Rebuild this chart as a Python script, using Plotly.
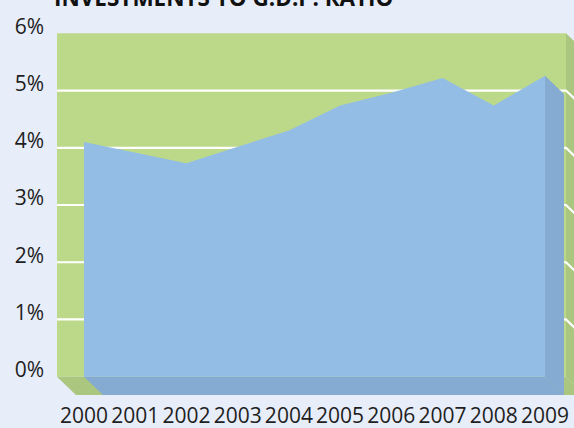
import plotly.graph_objects as go

# Investments to GDP ratio, percent
years = [2000, 2001, 2002, 2003, 2004, 2005, 2006, 2007, 2008, 2009]
ratio = [4.10, 3.91, 3.73, 4.02, 4.30, 4.74, 4.96, 5.22, 4.74, 5.26]
y_ticks = [0, 1, 2, 3, 4, 5, 6]
y_tick_labels = ["0%", "1%", "2%", "3%", "4%", "5%", "6%"]
title_text = "INVESTMENTS TO G.D.P. RATIO"

# colours
BG = "#e7edf9"
WALL = "#bcd98a"
WALL_DARK = "#aac67f"
AREA = "#93bde5"
AREA_DARK = "#86abd2"
FONT = "Open Sans"

# pseudo-3D geometry (in axis units)
x_px = 461 / 9            # pixels per year
y_px = 57.23              # pixels per percent
dx = 19 / x_px            # depth offset to the right
dy = 18.3 / y_px          # depth offset downwards
x_left = years[0] - 27 / x_px
x_right = years[0] + 482 / x_px
x_max = years[0] + 490 / x_px
y_top = y_ticks[-1]

fig = go.Figure()


def poly(xs, ys, color):
    fig.add_trace(go.Scatter(x=xs, y=ys, mode="lines", fill="toself",
                             fillcolor=color, line=dict(width=0),
                             hoverinfo="skip", showlegend=False))


# back wall, floor and side wall
poly([x_left, x_right, x_right, x_left, x_left], [0, 0, y_top, y_top, 0], WALL)
poly([x_left, x_right, x_right + dx, x_left + dx, x_left],
     [0, 0, -dy, -dy, 0], WALL_DARK)
poly([x_right, x_right + dx, x_right + dx, x_right, x_right],
     [0, -dy, y_top - dy, y_top, 0], WALL_DARK)

# grid lines across the back wall and down the side wall
for v in y_ticks[1:-1]:
    fig.add_trace(go.Scatter(x=[x_left, x_right, x_right + dx],
                             y=[v, v, v - dy], mode="lines",
                             line=dict(color="white", width=2.2),
                             hoverinfo="skip", showlegend=False))

# area body: floor strip and right side
x0, x1 = years[0], years[-1]
poly([x0, x1, x1 + dx, x0 + dx, x0], [0, 0, -dy, -dy, 0], AREA_DARK)
poly([x1, x1 + dx, x1 + dx, x1, x1],
     [ratio[-1], ratio[-1] - dy, -dy, 0, ratio[-1]], AREA_DARK)

# area face
fig.add_trace(go.Scatter(x=years + [x1, x0], y=ratio + [0, 0], mode="lines",
                         fill="toself", fillcolor=AREA, line=dict(width=0),
                         hoverinfo="skip", showlegend=False))

fig.add_annotation(text="<b>" + title_text + "</b>", xref="paper", yref="paper",
                   x=0, y=1, xanchor="left", yanchor="bottom", yshift=18,
                   xshift=-5, showarrow=False,
                   font=dict(family=FONT, size=22.5, color="#111111"))

fig.update_layout(
    width=574, height=428,
    margin=dict(l=57, r=0, t=33, b=33),
    paper_bgcolor=BG, plot_bgcolor=BG,
    xaxis=dict(range=[x_left, x_max], tickvals=years,
               ticktext=[str(y) for y in years], showgrid=False,
               zeroline=False, showline=False, ticks="",
               tickangle=0, automargin=False, ticklabelstandoff=6,
               tickfont=dict(family=FONT, size=21, color="#1e1e1e")),
    yaxis=dict(range=[-dy, y_top + 0.0055], tickvals=y_ticks,
               ticktext=y_tick_labels, showgrid=False, zeroline=False,
               showline=False, ticks="", ticklabelshift=-7,
               ticklabelstandoff=12, automargin=False,
               tickfont=dict(family=FONT, size=21, color="#1e1e1e")),
)

fig.write_html("out.html")
